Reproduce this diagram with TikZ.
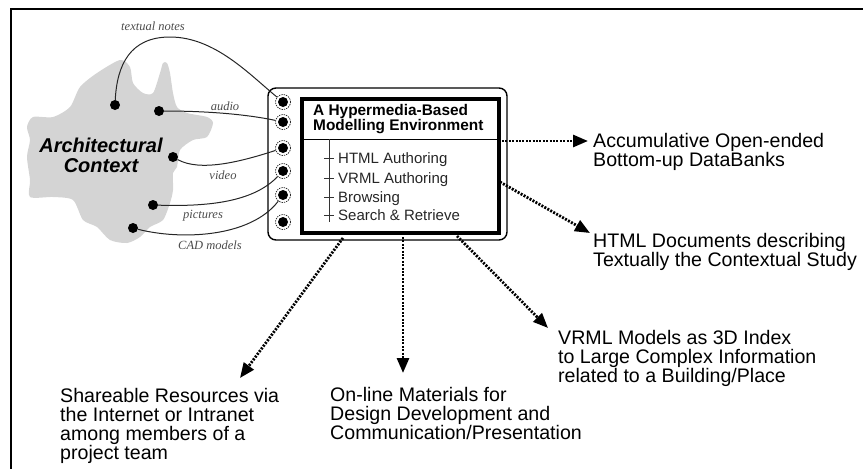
\documentclass[tikz,border=0pt]{standalone}
\usepackage{fontspec}
\setmainfont{Liberation Serif}
\setsansfont{Liberation Sans}
\usetikzlibrary{arrows.meta}
\definecolor{blobgray}{RGB}{212,212,212}
\begin{document}
\begin{tikzpicture}[x=1pt,y=-1pt,
  dot/.style={circle,fill=black,inner sep=0pt,minimum size=10pt},
  port/.style={circle,draw,dash pattern=on 1.4pt off 1pt,line width=0.6pt,inner sep=0pt,minimum size=15pt},
  wire/.style={line width=1pt,black!85},
  lbl/.style={font=\fontsize{12.5}{13}\selectfont\itshape,text=black!70,inner sep=0pt},
  flow/.style={line width=2.8pt,dash pattern=on 2pt off 1.4pt,-{Triangle[length=15pt,width=12pt]}},
  bigtxt/.style={font=\fontsize{19.6}{19}\selectfont\sffamily,align=left,anchor=north west,inner sep=0pt},
  item/.style={font=\fontsize{15}{15}\selectfont\sffamily,text=black!85,anchor=base west,inner sep=0pt}]
\useasboundingbox (0,0) rectangle (863,469);
% frame
\draw[line width=2.8pt] (11,472) -- (11,9) -- (866,9);
% blob
\fill[blobgray] plot[smooth cycle,tension=0.45] coordinates {
 (120,60) (97,73) (80,87) (70,107) (53,117) (33,117) (27,127) (30,140) (27,157)
 (30,180) (30,197) (53,197) (73,200) (83,220) (97,227) (110,240) (127,243)
 (140,237) (150,227) (163,220) (170,203) (173,190) (173,173) (177,167) (180,150)
 (193,140) (207,137) (213,123) (207,117) (187,113) (177,107) (173,93) (170,73)
 (167,63) (163,63) (160,73) (153,93) (143,93) (133,83) (130,67)};
\node[font=\fontsize{20}{20}\selectfont\sffamily\bfseries\itshape,align=center,inner sep=0pt] (ctx) at (101,155) {Architectural\\Context};
% dots
\node[dot] (dT) at (115,105) {};
\node[dot] (dA) at (159,111) {};
\node[dot] (dV) at (173,157) {};
\node[dot] (dP) at (153,205) {};
\node[dot] (dC) at (133,228) {};
% outer and inner box
\node[draw,line width=1.4pt,rounded corners=8pt,minimum width=239pt,minimum height=152pt,inner sep=0pt] (outer) at (387.5,164) {};
\node[draw,line width=3.5pt,minimum width=197pt,minimum height=134pt,inner sep=0pt] (inner) at (400.5,166) {};
\coordinate (sepL) at (302,139);
\coordinate (sepR) at (500,139);
\draw[line width=0.9pt] (sepL) -- (sepR);
\node[font=\fontsize{15.4}{15}\selectfont\sffamily\bfseries,align=left,anchor=north west,inner sep=0pt] (head) at (313,104.5) {A Hypermedia-Based\\Modelling Environment};
% tree
\coordinate (trT) at (329,139);
\coordinate (trB) at (329,222);
\draw[line width=0.8pt,black!80] (trT) -- (trB);
\foreach \n/\y/\t in {1/158/HTML Authoring,2/178/VRML Authoring,3/197/Browsing,4/215/Search \& Retrieve}{
  \coordinate (tk\n) at (324,\y);
  \coordinate (tke\n) at (334,\y);
  \draw[line width=0.8pt,black!80] (tk\n) -- (tke\n);
  \node[item] (it\n) at (338,\y+5.4) {\t};
}
% ports
\foreach \n/\y in {1/102,2/122,3/148,4/171,5/195,6/222}{
  \node[port] (p\n) at (283,\y) {};
  \fill (p\n.center) circle (5);
}
% wires
\draw[wire] (dT) .. controls (117,65) and (130,37) .. (170,37) .. controls (215,37) and (250,75) .. (p1);
\draw[wire] (dA) .. controls (205,111) and (245,114) .. (p2);
\draw[wire] (dV) .. controls (200,172) and (240,162) .. (p3);
\draw[wire] (dP) .. controls (215,207) and (255,200) .. (p4);
\draw[wire] (dC) .. controls (180,240) and (250,238) .. (p5);
% wire labels
\node[lbl] (lT) at (153,26) {textual notes};
\node[lbl] (lA) at (225,106) {audio};
\node[lbl] (lV) at (223,175) {video};
\node[lbl] (lP) at (203,216) {pictures};
\node[lbl] (lC) at (210,245) {CAD models};
% output texts
\node[bigtxt] (tAcc) at (593,133) {Accumulative Open-ended\\Bottom-up DataBanks};
\node[bigtxt] (tHtml) at (593,233) {HTML Documents describing\\Textually the Contextual Study};
\node[bigtxt] (tVrml) at (558,330) {VRML Models as 3D Index\\to Large Complex Information\\related to a Building/Place};
\node[bigtxt] (tOn) at (330,387) {On-line Materials for\\Design Development and\\Communication/Presentation};
\node[bigtxt] (tSh) at (60,388) {Shareable Resources via\\the Internet or Intranet\\among members of a\\project team};
% arrows
\coordinate (sAcc) at (502,141);
\coordinate (eAcc) at (588,141);
\coordinate (sHtml) at (500,182);
\coordinate (eHtml) at (590,233);
\coordinate (sVrml) at (457,236);
\coordinate (eVrml) at (548,328);
\coordinate (sOn) at (403,237);
\coordinate (eOn) at (403,373);
\coordinate (sSh) at (343,238);
\coordinate (eSh) at (240,378);
\draw[flow] (sAcc) -- (eAcc);
\draw[flow] (sHtml) -- (eHtml);
\draw[flow] (sVrml) -- (eVrml);
\draw[flow] (sOn) -- (eOn);
\draw[flow] (sSh) -- (eSh);
\end{tikzpicture}
\end{document}
